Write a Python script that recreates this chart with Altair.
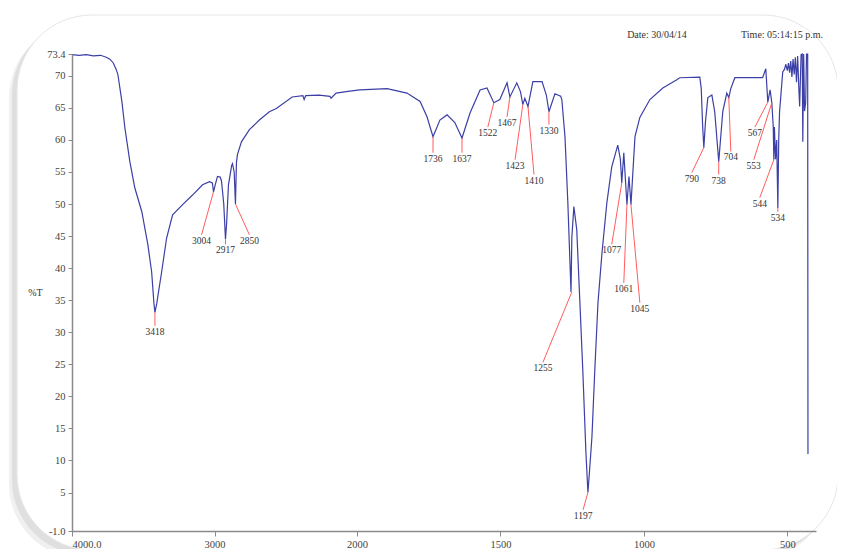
import altair as alt
import pandas as pd

# ---------------- spectrum (wavenumber cm-1, %T) ----------------
wn = [4000, 3950, 3900, 3850, 3800, 3760, 3734, 3710, 3690, 3678, 3650, 3629, 3594,
      3559, 3510, 3468, 3441, 3425, 3418, 3405, 3399, 3371, 3336, 3294, 3224, 3154,
      3084, 3035, 3015, 3007, 2995, 2979, 2960, 2951, 2935, 2923, 2915, 2902, 2880,
      2874, 2862, 2853, 2846, 2839, 2811, 2755, 2685, 2615, 2566, 2455, 2380, 2371,
      2360, 2266, 2190, 2182, 2147, 2050, 1990, 1895, 1826, 1780, 1756, 1735, 1711,
      1686, 1659, 1634, 1606, 1571, 1547, 1523, 1502, 1477, 1467, 1443, 1430, 1422,
      1415, 1404, 1387, 1355, 1340, 1331, 1310, 1290, 1286, 1275, 1265, 1254, 1251,
      1244, 1234, 1223, 1213, 1202, 1195, 1190, 1181, 1171, 1160, 1146, 1129, 1112,
      1091, 1082, 1077, 1070, 1059, 1052, 1045, 1031, 1014, 979, 934, 885, 875, 805,
      800, 795, 791, 785, 777, 763, 753, 739, 725, 711, 704, 697, 683, 586, 575, 568,
      560, 554, 549, 547, 545, 541, 537, 533, 530, 527, 516, 510, 505, 500, 496, 492,
      488, 484, 480, 476, 472, 468, 464, 460, 457, 452, 448, 446, 443, 440, 436, 433,
      431, 429, 428]
tr = [73.3, 73.2, 73.3, 73.1, 73.2, 72.9, 72.6, 72.0, 71.0, 70.2, 66.0, 61.9, 56.6,
      52.5, 48.8, 43.7, 39.4, 34.5, 33.1, 34.5, 35.4, 39.4, 44.7, 48.3, 49.9, 51.4,
      53.0, 53.5, 53.3, 51.9, 53.0, 54.3, 54.2, 53.6, 50.0, 44.5, 47.0, 53.0, 56.0,
      56.3, 55.0, 50.0, 56.5, 57.7, 59.7, 61.6, 63.1, 64.4, 64.9, 66.7, 66.9, 66.3,
      66.9, 67.0, 66.8, 66.5, 67.3, 67.6, 67.8, 68.0, 67.3, 66.0, 63.6, 60.5, 63.1,
      63.9, 62.7, 60.3, 64.2, 67.8, 68.1, 65.8, 66.3, 68.9, 66.7, 68.9, 67.5, 65.5,
      66.5, 65.2, 69.1, 69.1, 67.0, 64.4, 67.2, 66.8, 66.3, 60.5, 50.2, 36.3, 44.9,
      49.6, 46.0, 34.6, 24.2, 11.2, 5.0, 8.0, 13.7, 24.2, 34.6, 42.4, 50.2, 55.8,
      59.2, 57.0, 53.3, 58.0, 49.9, 54.3, 49.9, 60.5, 63.5, 66.3, 68.1, 69.4, 69.7, 69.8,
      68.0, 62.0, 58.8, 63.0, 66.6, 67.0, 64.4, 56.6, 64.4, 67.3, 66.6, 68.0, 69.7, 69.7,
      71.1, 65.9, 67.8, 65.8, 62.0, 56.9, 62.0, 57.0, 60.0, 49.4, 60.0, 64.4, 70.6,
      71.0, 71.8, 70.8, 72.0, 70.5, 72.3, 69.8, 72.6, 70.2, 72.9, 69.0, 73.1, 68.2,
      65.2, 73.3, 73.4, 59.7, 73.4, 64.5, 65.8, 73.4, 73.4, 73.4, 11.0]

# ---------------- peak annotations ----------------
peak_labels = ["3418", "3004", "2917", "2850", "1736", "1637", "1522", "1467", "1423",
               "1410", "1330", "1255", "1197", "1077", "1061", "1045", "790", "738",
               "704", "567", "553", "544", "534"]
peak_wn = [3418, 3007, 2923, 2853, 1735, 1634, 1523, 1467, 1422, 1404, 1331, 1251,
           1195, 1077, 1059, 1045, 791, 739, 704, 568, 554, 547, 533]
peak_t = [33.1, 51.9, 44.5, 50.0, 60.5, 60.3, 65.8, 66.7, 65.5, 65.2, 64.4, 36.3, 5.0,
          53.3, 49.9, 49.9, 58.8, 56.6, 66.6, 65.9, 65.8, 56.9, 49.4]
lab_wn = [3418, 3091, 2923, 2755, 1735, 1634, 1544, 1477, 1449, 1383, 1331, 1352, 1212,
          1112, 1070, 1014, 833, 739, 697, 613, 617, 596, 533]
lab_t = [31.0, 45.2, 43.7, 45.2, 58.0, 58.0, 62.0, 63.6, 56.9, 54.6, 62.4, 25.3, 2.3,
         43.7, 37.7, 34.6, 54.9, 54.6, 58.2, 62.0, 56.9, 51.0, 48.8]

x_ticks = [4000, 3000, 2000, 1500, 1000, 500]
y_ticks = [-1, 5, 10, 15, 20, 25, 30, 35, 40, 45, 50, 55, 60, 65, 70, 73.4]

W, H = 744, 477
SERIF = "Liberation Serif"

spec = pd.DataFrame({"wn": wn, "t": tr, "i": list(range(len(wn)))})
peaks = pd.DataFrame({"label": peak_labels, "pwn": peak_wn, "pt": peak_t,
                      "lwn": lab_wn, "lt": lab_t})

xscale = alt.Scale(domain=[4000, 2000, 400], range=[0, 285, W], nice=False, zero=False)
yscale = alt.Scale(domain=[-1, 73.4], nice=False, zero=False)

xaxis = alt.Axis(values=x_ticks, tickCount=len(x_ticks) + 4, title=None, grid=False,
                 zindex=1, labelOverlap=False,
                 labelExpr="datum.value == 4000 ? '4000.0' : '' + datum.value",
                 labelFont=SERIF, labelFontSize=10.5, labelColor="#444",
                 domainColor="#8a8a8a", domainWidth=1.5, tickColor="#8a8a8a",
                 tickSize=5, labelPadding=3)
yaxis = alt.Axis(values=y_ticks, tickCount=len(y_ticks) + 4, title="%T", grid=False,
                 zindex=1, labelOverlap=False,
                 labelExpr="datum.value == -1 ? '-1.0' : (datum.value == 73.4 ? '73.4' : '' + datum.value)",
                 labelFont=SERIF, labelFontSize=10.5, labelColor="#444",
                 domainColor="#8a8a8a", domainWidth=1.5, tickColor="#8a8a8a",
                 tickSize=4, labelPadding=3,
                 titleAngle=0, titleX=-37, titleY=243, titleFont=SERIF,
                 titleFontSize=10, titleFontWeight="normal", titleColor="#333")

one = pd.DataFrame({"k": [0]})

# decorative rounded frame with a soft shadow
shadow1 = alt.Chart(one).mark_rect(cornerRadius=75, color="#9a9a9a", opacity=0.15).encode(
    x=alt.value(-63), x2=alt.value(758), y=alt.value(-31), y2=alt.value(505))
shadow2 = alt.Chart(one).mark_rect(cornerRadius=75, color="#9a9a9a", opacity=0.2).encode(
    x=alt.value(-60), x2=alt.value(761), y=alt.value(-34), y2=alt.value(501))
frame = alt.Chart(one).mark_rect(cornerRadius=75, fill="white", stroke="#e6e6e6",
                                 strokeWidth=1).encode(
    x=alt.value(-55), x2=alt.value(766), y=alt.value(-39), y2=alt.value(496))

line = alt.Chart(spec).mark_line(color="#3c3fa6", strokeWidth=1.2).encode(
    x=alt.X("wn:Q", scale=xscale, axis=xaxis),
    y=alt.Y("t:Q", scale=yscale, axis=yaxis),
    order="i:Q")

leaders = alt.Chart(peaks).mark_rule(color="#ff5c5c", strokeWidth=1).encode(
    x=alt.X("pwn:Q", scale=xscale, axis=xaxis), x2="lwn:Q",
    y=alt.Y("pt:Q", scale=yscale, axis=yaxis), y2="lt:Q")

labels = alt.Chart(peaks).mark_text(font=SERIF, fontSize=9.5, color="#333",
                                    baseline="top", align="center", dy=1).encode(
    x=alt.X("lwn:Q", scale=xscale, axis=xaxis), y=alt.Y("lt:Q", scale=yscale, axis=yaxis),
    text="label:N")

date_txt = alt.Chart(one).mark_text(font=SERIF, fontSize=10, color="#333",
                                    baseline="middle", align="center").encode(
    x=alt.value(585), y=alt.value(-19), text=alt.value("Date: 30/04/14"))
time_txt = alt.Chart(one).mark_text(font=SERIF, fontSize=10, color="#333",
                                    baseline="middle", align="center").encode(
    x=alt.value(710), y=alt.value(-19), text=alt.value("Time: 05:14:15 p.m."))

chart = alt.layer(shadow1, shadow2, frame, line, leaders, labels, date_txt, time_txt).properties(
    width=W, height=H,
    padding={"left": 64, "top": 46, "right": 21, "bottom": 18},
    autosize=alt.AutoSizeParams(type="none"),
    background="white",
).configure_view(stroke=None)

chart.save("out.html", embed_options={"renderer": "svg", "actions": False})
